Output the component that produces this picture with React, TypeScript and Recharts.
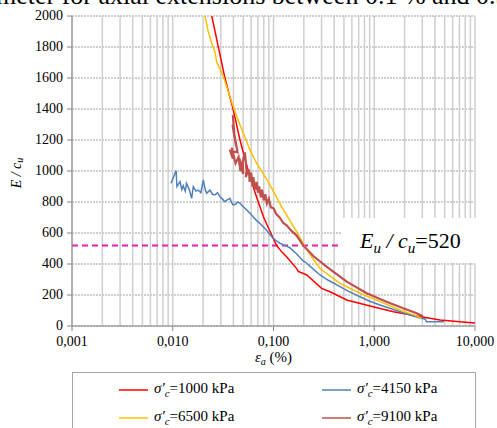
import { CartesianGrid, Line, LineChart, ReferenceLine, XAxis, YAxis } from "recharts";

const X_TICKS = [0.001, 0.01, 0.1, 1, 10];
const X_TICK_LABELS = ["0,001", "0,010", "0,100", "1,000", "10,000"];
const Y_TICKS = [0, 200, 400, 600, 800, 1000, 1200, 1400, 1600, 1800, 2000];
const EU_CU = 520;

// [strain %, E/cu]
const red1000: [number, number][] = [
  [0.0244, 2000], [0.033, 1598], [0.0399, 1394], [0.0465, 1200], [0.0562, 1000],
  [0.068, 830], [0.08, 700], [0.096, 587], [0.107, 522], [0.12, 480], [0.135, 447],
  [0.169, 372], [0.176, 352], [0.214, 329], [0.3, 243], [0.364, 221], [0.533, 168],
  [0.908, 129], [1.55, 92], [2.64, 64], [4.5, 39], [7.1, 28], [10, 20],
];

const blue4150: [number, number][] = [
  [0.0096, 921], [0.0108, 1002], [0.011, 899], [0.0118, 931], [0.0123, 880],
  [0.0127, 905], [0.0133, 870], [0.0137, 920], [0.0146, 880], [0.0154, 824],
  [0.016, 899], [0.017, 870], [0.0179, 877], [0.019, 860], [0.0201, 942],
  [0.021, 880], [0.0217, 856], [0.0234, 877], [0.0248, 850], [0.0262, 845],
  [0.0278, 860], [0.0294, 834], [0.031, 820], [0.0329, 802], [0.035, 815],
  [0.0369, 824], [0.0385, 795], [0.0398, 781], [0.042, 785], [0.044, 800],
  [0.0466, 792], [0.05, 770], [0.0543, 748], [0.058, 730], [0.0627, 705],
  [0.068, 680], [0.073, 663], [0.079, 640], [0.085, 619], [0.092, 590],
  [0.099, 566], [0.107, 550], [0.116, 534], [0.135, 515], [0.145, 505],
  [0.17, 465], [0.197, 420], [0.214, 405], [0.25, 365], [0.29, 329],
  [0.35, 295], [0.457, 254], [0.55, 225], [0.722, 189], [0.9, 160],
  [1.14, 135], [1.53, 108], [2.26, 71], [2.84, 52], [3.2, 45], [3.3, 27], [4.9, 28],
];

const yellow6500: [number, number][] = [
  [0.0209, 2000], [0.0225, 1900], [0.0244, 1824], [0.0262, 1770], [0.0273, 1705],
  [0.0318, 1608], [0.037, 1479], [0.0432, 1350], [0.0502, 1243], [0.0585, 1135],
  [0.068, 1050], [0.0888, 930], [0.12, 770], [0.169, 610], [0.215, 490],
  [0.29, 370], [0.457, 275], [0.722, 211], [1.14, 157], [1.8, 103], [2.5, 70],
  [2.84, 55], [2.9, 45],
];

// several jagged strands that overlap into a band
const brown9100: [number, number][] = [
  [0.0395, 1360], [0.041, 1220], [0.0392, 1300], [0.0425, 1160], [0.0405, 1250],
  [0.044, 1120], [0.0372, 1130], [0.0395, 1080], [0.0385, 1150], [0.042, 1050],
  [0.045, 1090], [0.047, 1000], [0.046, 1080], [0.05, 980], [0.0495, 1060],
  [0.052, 1120], [0.054, 1000], [0.053, 960], [0.057, 1010], [0.058, 930],
  [0.06, 990], [0.062, 900], [0.063, 960], [0.066, 880], [0.068, 930],
  [0.07, 860], [0.072, 900], [0.075, 830], [0.077, 880], [0.08, 810],
  [0.083, 850], [0.086, 790], [0.09, 820], [0.094, 765], [0.1, 760],
  [0.107, 720], [0.115, 700], [0.125, 665], [0.135, 650], [0.15, 615],
  [0.169, 585], [0.197, 520], [0.25, 450], [0.336, 383], [0.533, 286],
  [0.842, 211], [1.32, 157], [1.94, 114], [2.64, 82], [3.06, 62],
];

const SERIES = [
  { name: "1000", data: red1000, color: "#ff0000", width: 1.5 },
  { name: "4150", data: blue4150, color: "#4f81bd", width: 1.5 },
  { name: "6500", data: yellow6500, color: "#ffc000", width: 1.5 },
  { name: "9100", data: brown9100, color: "#c0504d", width: 2.2 },
];

const FONT = "Liberation Serif, serif";

const minorGrid: number[] = [];
for (let d = 0.001; d < 10; d *= 10) {
  for (let m = 1; m <= 9; m++) minorGrid.push(+(d * m).toPrecision(3));
}
minorGrid.push(10);

const toPoints = (d: [number, number][]) => d.map(([x, y]) => ({ x, y }));

const xLabelFor = (v: number) =>
  X_TICK_LABELS[X_TICKS.findIndex((t) => Math.abs(t - v) / t < 1e-6)];

function XTick(props: any) {
  const { x, y, payload } = props;
  return (
    <text x={x} y={y + 13} textAnchor="middle" fontFamily={FONT} fontSize={14} fill="#000">
      {xLabelFor(payload.value)}
    </text>
  );
}

function YTick(props: any) {
  const { x, y, payload } = props;
  return (
    <text x={x - 2} y={y + 4} textAnchor="end" fontFamily={FONT} fontSize={14} fill="#000">
      {payload.value}
    </text>
  );
}

function YLabel(props: any) {
  const { viewBox } = props;
  const cx = 18;
  const cy = viewBox.y + viewBox.height / 2 + 2;
  return (
    <text
      x={cx}
      y={cy}
      transform={`rotate(-90 ${cx} ${cy})`}
      textAnchor="middle"
      fontFamily={FONT}
      fontSize={14}
      fontStyle="italic"
      dominantBaseline="middle"
    >
      E / c<tspan fontSize={10} dy={3}>u</tspan>
    </text>
  );
}

function XLabel(props: any) {
  const { viewBox } = props;
  return (
    <text
      x={viewBox.x + viewBox.width / 2}
      y={viewBox.y + 36}
      textAnchor="middle"
      fontFamily={FONT}
      fontSize={15}
    >
      <tspan fontStyle="italic">ε</tspan>
      <tspan fontSize={10} fontStyle="italic" dy={3}>a</tspan>
      <tspan dy={-3}> (%)</tspan>
    </text>
  );
}

function LegendItem({ color, name }: { color: string; name: string }) {
  return (
    <span style={{ display: "inline-flex", alignItems: "center" }}>
      <svg width={29} height={4} style={{ marginRight: 6 }}>
        <line x1={0} y1={2} x2={29} y2={2} stroke={color} strokeWidth={1.5} />
      </svg>
      <span>
        <i>σ′</i>
        <sub style={{ fontSize: 11 }}><i>c</i></sub>={name} kPa
      </span>
    </span>
  );
}

export default function App() {
  return (
    <div style={{ position: "absolute", left: 0, top: 0, width: 497, height: 428, overflow: "hidden", background: "#fff", fontFamily: FONT }}>
      <div style={{ position: "absolute", left: -4, top: -17, fontSize: 26, lineHeight: "26px", whiteSpace: "nowrap" }}>
        meter for axial extensions between 0.1 % and 0.5 %
      </div>
      <LineChart
        width={497}
        height={428}
        margin={{ top: 16, right: 22, left: 0, bottom: 72 }}
        style={{ position: "absolute", left: 0, top: 0 }}
      >
        <CartesianGrid vertical={false} stroke="#a0a0a0" strokeDasharray="2 1" />
        {minorGrid.map((v) => (
          <ReferenceLine key={v} x={v} stroke="#cfcfcf" strokeWidth={1.5} />
        ))}
        <XAxis
          type="number"
          dataKey="x"
          scale="log"
          domain={[0.001, 10]}
          ticks={X_TICKS}
          allowDataOverflow
          height={30}
          stroke="#868686"
          tickSize={5}
          tick={XTick}
          label={{ content: XLabel }}
        />
        <YAxis
          type="number"
          domain={[0, 2000]}
          ticks={Y_TICKS}
          width={72}
          allowDataOverflow
          stroke="#868686"
          tickSize={5}
          tick={YTick}
          label={{ content: YLabel }}
        />
        <ReferenceLine y={EU_CU} stroke="#e020b0" strokeWidth={2} strokeDasharray="6 4" />
        {SERIES.map((s) => (
          <Line
            key={s.name}
            data={toPoints(s.data)}
            dataKey="y"
            type="linear"
            stroke={s.color}
            strokeWidth={s.width}
            dot={false}
            isAnimationActive={false}
          />
        ))}
      </LineChart>
      <div
        style={{
          position: "absolute",
          left: 342,
          top: 218,
          width: 155,
          height: 45,
          background: "#fff",
          fontSize: 22,
          lineHeight: "45px",
          paddingLeft: 18,
          boxSizing: "border-box",
        }}
      >
        <i>E</i>
        <sub style={{ fontSize: 15 }}><i>u</i></sub>
        <i> / c</i>
        <sub style={{ fontSize: 15 }}><i>u</i></sub>=520
      </div>
      <div
        style={{
          position: "absolute",
          left: 72,
          top: 372,
          width: 404,
          height: 70,
          border: "1px solid #a6a6a6",
          boxSizing: "border-box",
          fontSize: 15,
        }}
      >
        {SERIES.map((s, i) => (
          <div
            key={s.name}
            style={{
              position: "absolute",
              left: i % 2 === 0 ? 46 : 249,
              top: i < 2 ? 4 : 32,
              lineHeight: "20px",
            }}
          >
            <LegendItem color={s.color} name={s.name} />
          </div>
        ))}
      </div>
    </div>
  );
}
